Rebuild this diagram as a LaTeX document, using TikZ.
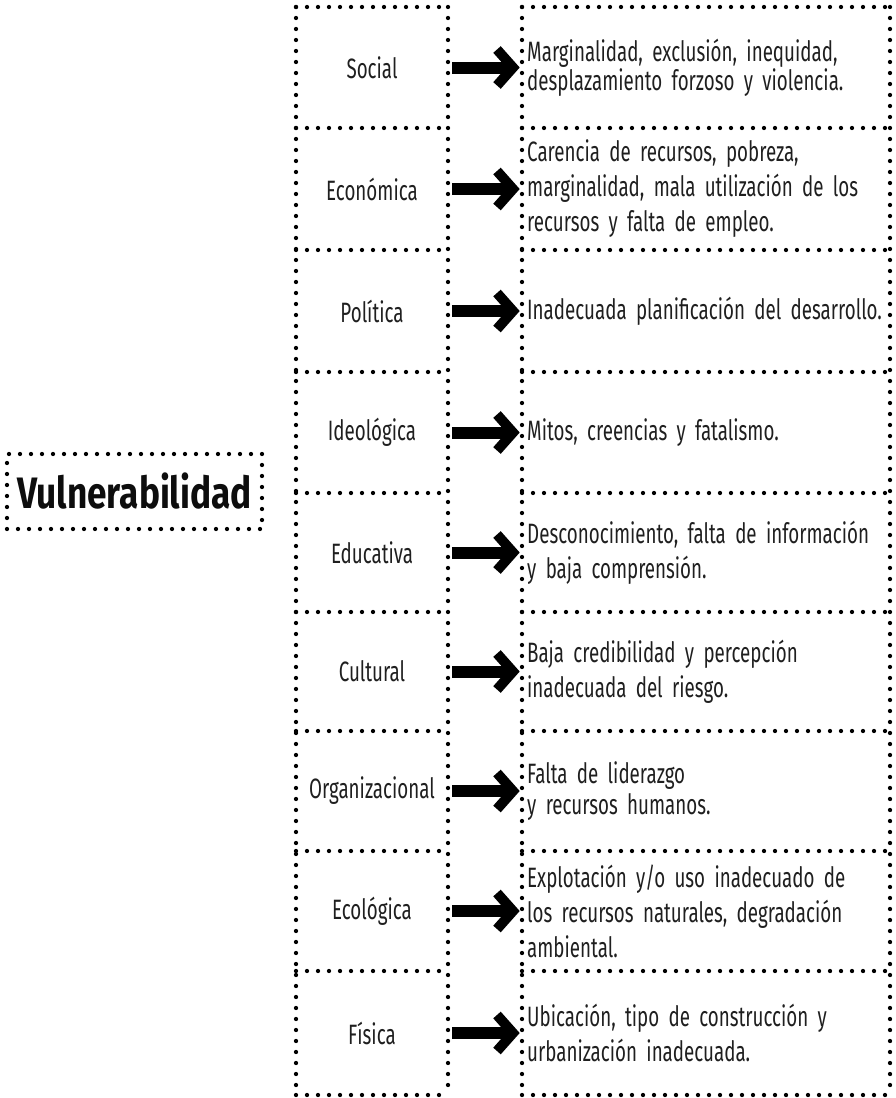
\documentclass[tikz,border=0pt]{standalone}
\usepackage{fontspec}
\setmainfont{Fira Sans}[FakeStretch=0.67]
\newfontfamily\boldcond{Fira Sans Bold}[FakeStretch=0.8]
\newcommand{\descfont}[1]{\fontsize{28}{#1}\selectfont\spaceskip=4.3pt plus 2pt minus 1pt\relax}
\begin{document}
\begin{tikzpicture}[x=1pt,y=-1pt]
\tikzset{
  dotline/.style={line width=4.3pt, line cap=round, dash pattern=on 0pt off 11pt},
  catbox/.style={minimum width=152pt, minimum height=110pt, inner sep=0pt, align=center,
                 font=\descfont{32}, text=black!88},
  descbox/.style={anchor=west, inner xsep=5pt, inner ysep=0pt, text width=362pt, align=left,
                 font=\descfont{35}, text=black!88},
  shaft/.style={line width=12pt, shorten <=4pt},
  headchev/.style={line width=10pt, line join=miter, line cap=butt}
}
\useasboundingbox (0,0) rectangle (896,1098);

% grid of dotted box borders
\foreach \yy in {7,128,250,372,493,612,731,851,971,1095}{
  \draw[dotline] (296,\yy) -- (448,\yy);
  \draw[dotline] (522,\yy) -- (890,\yy);
}
\foreach \xx in {296,448,522,890}{
  \draw[dotline] (\xx,7) -- (\xx,1095);
}

% main title
\node[draw, dotline, minimum width=255pt, minimum height=75pt, inner sep=0pt,
      font=\boldcond\fontsize{44}{46}\selectfont, text=black!95] (vul) at (134.5,491.5) {Vulnerabilidad};

% categories
\node[catbox] (l1) at (372,67.5) {Social};
\node[catbox] (l2) at (372,189) {Económica};
\node[catbox] (l3) at (372,311) {Política};
\node[catbox] (l4) at (372,432.5) {Ideológica};
\node[catbox] (l5) at (372,552.5) {Educativa};
\node[catbox] (l6) at (372,671.5) {Cultural};
\node[catbox] (l7) at (372,791) {Organizacional};
\node[catbox] (l8) at (372,911) {Ecológica};
\node[catbox] (l9) at (372,1033) {Física};

% descriptions
\node[descbox, font=\descfont{29}] (r1) at (522,67.5) {Marginalidad, exclusión, inequidad,\\desplazamiento forzoso y violencia.};
\node[descbox] (r2) at (522,189) {Carencia de recursos, pobreza,\\marginalidad, mala utilización de los\\recursos y falta de empleo.};
\node[descbox] (r3) at (522,311) {Inadecuada planificación del desarrollo.};
\node[descbox] (r4) at (522,432.5) {Mitos, creencias y fatalismo.};
\node[descbox] (r5) at (522,552.5) {Desconocimiento, falta de información\\y baja comprensión.};
\node[descbox] (r6) at (522,671.5) {Baja credibilidad y percepción\\inadecuada del riesgo.};
\node[descbox, font=\descfont{31}] (r7) at (522,791) {Falta de liderazgo\\y recursos humanos.};
\node[descbox] (r8) at (522,911) {Explotación y/o uso inadecuado de\\los recursos naturales, degradación\\ambiental.};
\node[descbox] (r9) at (522,1033) {Ubicación, tipo de construcción y\\urbanización inadecuada.};

% arrows
\foreach \i in {1,...,9}{
  \draw[shaft] (l\i.east) -- ([xshift=-12pt]r\i.west);
  \draw[headchev] ([xshift=-25pt,yshift=-18pt]r\i.west) -- ([xshift=-9pt]r\i.west) -- ([xshift=-25pt,yshift=18pt]r\i.west);
}
\end{tikzpicture}
\end{document}
